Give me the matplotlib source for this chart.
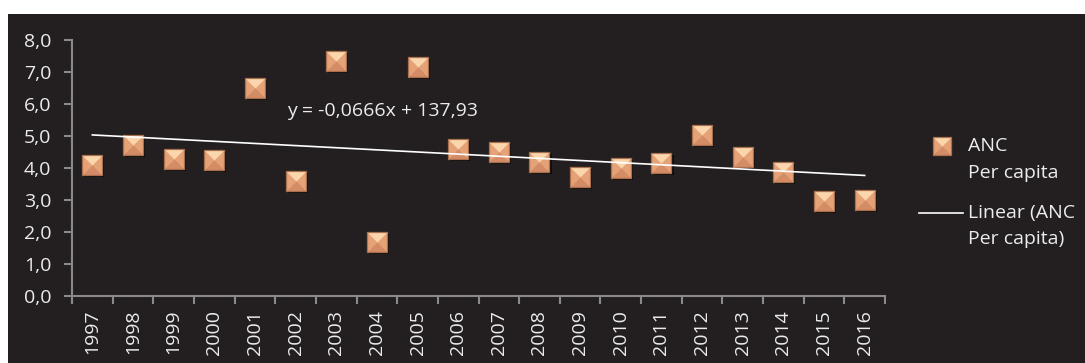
import numpy as np
import matplotlib
matplotlib.use("Agg")
import matplotlib.pyplot as plt
from matplotlib.path import Path
from matplotlib.patches import Rectangle
from matplotlib.lines import Line2D

# ---- data -------------------------------------------------------------
years = [1997, 1998, 1999, 2000, 2001, 2002, 2003, 2004, 2005, 2006,
         2007, 2008, 2009, 2010, 2011, 2012, 2013, 2014, 2015, 2016]
anc_per_capita = [4.09, 4.72, 4.28, 4.25, 6.50, 3.60, 7.34, 1.69, 7.15, 4.60,
                  4.50, 4.19, 3.72, 4.00, 4.16, 5.03, 4.34, 3.88, 2.97, 3.00]
y_ticks = [0, 1, 2, 3, 4, 5, 6, 7, 8]
series_label = "ANC\nPer capita"
trend_label = "Linear (ANC\nPer capita)"
equation_text = "y = -0,0666x + 137,93"

# ---- style ------------------------------------------------------------
BG = "#231f20"
AXIS = "#8a8a8a"
TEXT = "#ececec"
FONT = ["Open Sans", "DejaVu Sans"]
FS = 14

W, H = 1085, 363
fig = plt.figure(figsize=(W / 100, H / 100), dpi=100)
fig.patch.set_facecolor("white")
fig.add_artist(Rectangle((8 / W, 0), 1 - 8 / W, (H - 14) / H,
                         transform=fig.transFigure, facecolor=BG,
                         edgecolor="none", zorder=0))

ax_l, ax_r, ax_t, ax_b = 72, 885, 40, 296
ax = fig.add_axes([ax_l / W, (H - ax_b) / H, (ax_r - ax_l) / W, (ax_b - ax_t) / H])
ax.set_facecolor("none")

# bevelled square marker: base square plus lit top face and shaded bottom face
sq = Path([(-1, -1), (1, -1), (1, 1), (-1, 1), (-1, -1)], closed=True)
top_face = Path([(-1, 1), (1, 1), (0, 0), (-1, 1)], closed=True)
bot_face = Path([(-1, -1), (1, -1), (0, 0), (-1, -1)], closed=True)
MS = 14.8
EDGE = "#a9704f"
layers = [
    (sq, "#e6a277"),
    (top_face, "#fbd6ad"),
    (bot_face, "#d38c66"),
]


def bevel_marker(draw, size):
    for path, fc in layers:
        draw(marker=path, markersize=size, markerfacecolor=fc,
             markeredgecolor=fc, markeredgewidth=0)
    draw(marker=sq, markersize=size, markerfacecolor="none",
         markeredgecolor=EDGE, markeredgewidth=0.9)


x = np.arange(len(years))
y = np.asarray(anc_per_capita)

# soft drop shadow under each marker
shadow = matplotlib.transforms.offset_copy(ax.transData, fig=fig, x=1.5, y=-1.5, units="points")
ax.plot(x, y, linestyle="none", marker=sq, markersize=MS, markerfacecolor="#0c0a0a",
        markeredgewidth=0, transform=shadow, zorder=2)

bevel_marker(lambda **kw: ax.plot(x, y, linestyle="none", zorder=3, **kw), MS)

# least-squares trend line
slope, intercept = np.polyfit(np.asarray(years, float), y, 1)
trend = slope * np.asarray(years, float) + intercept
ax.plot(x, trend, color="white", linewidth=1.2, zorder=4)

ax.text((287 - ax_l) / (ax_r - ax_l), (ax_b - 111) / (ax_b - ax_t), equation_text,
        transform=ax.transAxes, ha="left", va="center", color=TEXT,
        fontsize=FS, family=FONT, zorder=5)

# axes
ax.set_xlim(-0.5, len(years) - 0.5)
ax.set_ylim(0, 8)
ax.set_yticks(y_ticks)
ax.set_yticklabels([f"{v:.1f}".replace(".", ",") for v in y_ticks],
                   color=TEXT, fontsize=FS, family=FONT)
ax.set_xticks(np.arange(len(years) + 1) - 0.5)
ax.set_xticklabels([])
ax.set_xticks(x, minor=True)
ax.set_xticklabels([str(v) for v in years], minor=True, rotation=90,
                   color=TEXT, fontsize=FS, family=FONT)
ax.tick_params(axis="x", which="major", length=6, width=1.5, color=AXIS, direction="out")
ax.tick_params(axis="x", which="minor", length=0, pad=10)
ax.tick_params(axis="y", length=6, width=1.5, color=AXIS, direction="out", pad=9)
for s in ("top", "right"):
    ax.spines[s].set_visible(False)
for s in ("left", "bottom"):
    ax.spines[s].set_color(AXIS)
    ax.spines[s].set_linewidth(1.5)


# legend
def fx(px):
    return px / W


def fy(py):
    return 1 - py / H


bevel_marker(lambda **kw: fig.add_artist(Line2D([fx(942)], [fy(146)], transform=fig.transFigure,
                                                linestyle="none", **kw)), MS * 0.85)
fig.add_artist(Line2D([fx(919), fx(963)], [fy(213), fy(213)],
                      transform=fig.transFigure, color="white", linewidth=1.2))

for label, y0 in ((series_label, 146), (trend_label, 213)):
    for i, line in enumerate(label.split("\n")):
        fig.text(fx(968), fy(y0 + 26.5 * i), line, ha="left", va="center",
                 color=TEXT, fontsize=FS, family=FONT)

fig.savefig("out.png", dpi=100, facecolor=fig.get_facecolor())
